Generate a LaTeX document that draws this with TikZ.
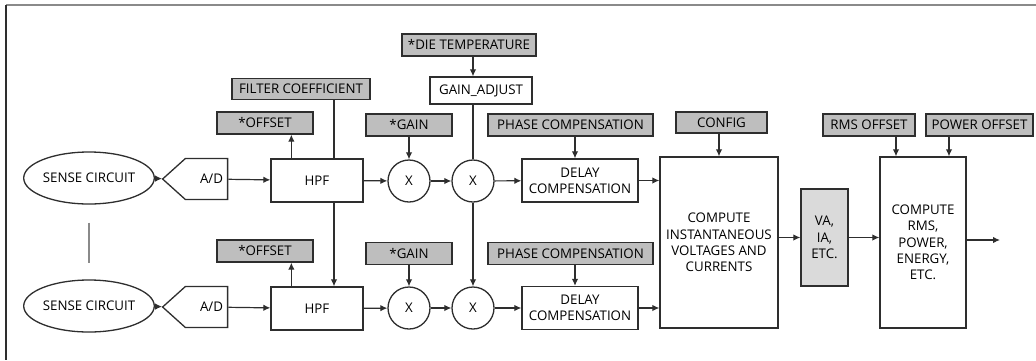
\documentclass[tikz,border=0pt]{standalone}
\usepackage{fontspec}
\setmainfont{Open Sans}
\usepackage{tikz}
\usetikzlibrary{arrows.meta,positioning,calc,shapes.geometric,shapes.symbols}
\usepackage{xcolor}
\definecolor{meterline}{HTML}{2E2E2E}
\definecolor{metergray}{HTML}{BEBEBE}
\definecolor{meterdata}{HTML}{DADADA}
\definecolor{meterframe}{HTML}{8A8A8A}
\tikzset{
  basefont/.style={font=\fontsize{13.3}{16.3}\selectfont},
  parambox/.style={
    rectangle,
    draw=meterline,
    fill=metergray,
    line width=1.3pt,
    inner sep=0pt,
    minimum height=22pt,
    align=center,
    basefont
  },
  blockbox/.style={
    rectangle,
    draw=meterline,
    fill=white,
    line width=1.3pt,
    inner sep=0pt,
    align=center,
    basefont
  },
  multnode/.style={
    circle,
    draw=meterline,
    fill=white,
    line width=1.3pt,
    inner sep=0pt,
    minimum size=42pt,
    basefont
  },
  sensenode/.style={
    ellipse,
    draw=meterline,
    fill=white,
    line width=1.3pt,
    inner sep=0pt,
    minimum width=108pt,
    minimum height=52pt,
    basefont
  },
  adcnode/.style={
    signal,
    signal to=west,
    signal from=nowhere,
    signal pointer angle=84,
    draw=meterline,
    fill=white,
    line width=1.3pt,
    inner sep=0pt,
    minimum width=65pt,
    minimum height=41pt,
    basefont
  },
  arrow/.style={
    -{Latex[length=7pt,width=6.5pt]},
    line width=1.2pt,
    draw=meterline
  },
  link/.style={
    line width=1.2pt,
    draw=meterline
  }
}

\begin{document}
\begin{tikzpicture}[x=1pt,y=-1pt]
  \useasboundingbox (0,0) rectangle (1036,360);
  \draw[meterframe, line width=2pt] (6,5) -- (1036,5);
  \draw[meterline, line width=1.2pt] (6,5) -- (6,360);

  % input channels
  \node[sensenode] (sense1) at (89,178) {SENSE CIRCUIT};
  \node[sensenode] (sense2) at (89,306) {SENSE CIRCUIT};
  \node[adcnode] (adc1) at (206.5,179) {\hspace*{10pt}A/D};
  \node[adcnode] (adc2) at (206.5,307) {\hspace*{10pt}A/D};
  \node[blockbox, minimum width=92pt, minimum height=43pt] (hpf1) at (317,180.5) {HPF};
  \node[blockbox, minimum width=92pt, minimum height=43pt] (hpf2) at (317,308.5) {HPF};
  \node[parambox, minimum width=96pt] (offset1) at (265,123) {*OFFSET};
  \node[parambox, minimum width=96pt] (offset2) at (265,251) {*OFFSET};
  \node[parambox, minimum width=138pt, minimum height=21pt] (filtcoef) at (301,89) {FILTER COEFFICIENT};

  % gain stages
  \node[multnode] (mula1) at (409,181) {X};
  \node[multnode] (mulb1) at (473,181) {X};
  \node[multnode] (mula2) at (409,308) {X};
  \node[multnode] (mulb2) at (473,308) {X};
  \node[parambox, minimum width=86pt] (gain1) at (409,125) {*GAIN};
  \node[parambox, minimum width=86pt] (gain2) at (409,253.5) {*GAIN};
  \node[parambox, minimum width=134pt] (dietemp) at (469,45) {*DIE TEMPERATURE};
  \node[blockbox, minimum width=102pt, minimum height=27pt] (gainadj) at (481,90.5) {GAIN\_ADJUST};

  % delay and compute
  \node[blockbox, minimum width=116pt, minimum height=43pt] (delay1) at (580,180.5) {DELAY\\COMPENSATION};
  \node[blockbox, minimum width=116pt, minimum height=43pt] (delay2) at (580,308) {DELAY\\COMPENSATION};
  \node[parambox, minimum width=165pt] (phase1) at (570.5,125) {PHASE COMPENSATION};
  \node[parambox, minimum width=165pt] (phase2) at (570.5,253.5) {PHASE COMPENSATION};
  \node[blockbox, minimum width=118pt, minimum height=171pt] (instant) at (719,242.5) {COMPUTE\\INSTANTANEOUS\\VOLTAGES AND\\CURRENTS};
  \node[parambox, minimum width=91pt, minimum height=21pt] (config) at (721.5,122.5) {CONFIG};
  \node[blockbox, fill=meterdata, minimum width=47pt, minimum height=97pt] (vaia) at (824.5,237.5) {VA,\\IA,\\ETC.};
  \node[blockbox, minimum width=86pt, minimum height=171pt] (rms) at (923,242.5) {COMPUTE\\RMS,\\POWER,\\ENERGY,\\ETC.};
  \node[parambox, minimum width=92pt] (rmsoff) at (869,125) {RMS OFFSET};
  \node[parambox, minimum width=107pt] (pwroff) at (979.5,125) {POWER OFFSET};
  \coordinate (out) at (1000,240);

  % signal path
  \foreach \a/\b in {sense1/adc1,adc1/hpf1,sense2/adc2,adc2/hpf2,hpf1/mula1,mula1/mulb1,mulb1/delay1,hpf2/mula2,mula2/mulb2,mulb2/delay2} {
    \draw[arrow] (\a) -- (\b);
  }
  \draw[arrow] (delay1.east) -- (delay1.east -| instant.west);
  \draw[arrow] (delay2.east) -- (delay2.east -| instant.west);
  \draw[arrow] (vaia.west -| instant.east) -- (vaia.west);
  \draw[arrow] (vaia.east) -- (vaia.east -| rms.west);
  \draw[arrow] (rms.east |- out) -- (out);

  % parameters
  \draw[arrow] ([xshift=21pt]hpf1.north west) -- ([xshift=21pt]hpf1.north west |- offset1.south);
  \draw[arrow] ([xshift=21pt]hpf2.north west) -- ([xshift=21pt]hpf2.north west |- offset2.south);
  \draw[link] ([xshift=17pt]hpf1.north |- filtcoef.south) -- ([xshift=17pt]hpf1.north);
  \draw[arrow] ([xshift=17pt]hpf1.south) -- ([xshift=17pt]hpf2.north);
  \draw[arrow] (gain1) -- (mula1);
  \draw[arrow] (gain2) -- (mula2);
  \draw[arrow] (dietemp.south -| mulb1) -- (gainadj.north -| mulb1);
  \draw[link] (gainadj.south -| mulb1) -- (mulb1);
  \draw[arrow] (mulb1) -- (mulb2);
  \draw[arrow] ([xshift=-5pt]delay1.north |- phase1.south) -- ([xshift=-5pt]delay1.north);
  \draw[arrow] ([xshift=-5pt]delay2.north |- phase2.south) -- ([xshift=-5pt]delay2.north);
  \draw[arrow] (config.south -| instant.north) -- (instant.north);
  \draw[arrow] (rmsoff.south -| 896,0) -- (rms.north -| 896,0);
  \draw[arrow] (pwroff.south -| 949,0) -- (rms.north -| 949,0);

  % link between channels
  \draw[meterframe, line width=1.5pt] ([yshift=-18pt]sense1.south) -- ([yshift=16pt]sense2.north);
\end{tikzpicture}
\end{document}
